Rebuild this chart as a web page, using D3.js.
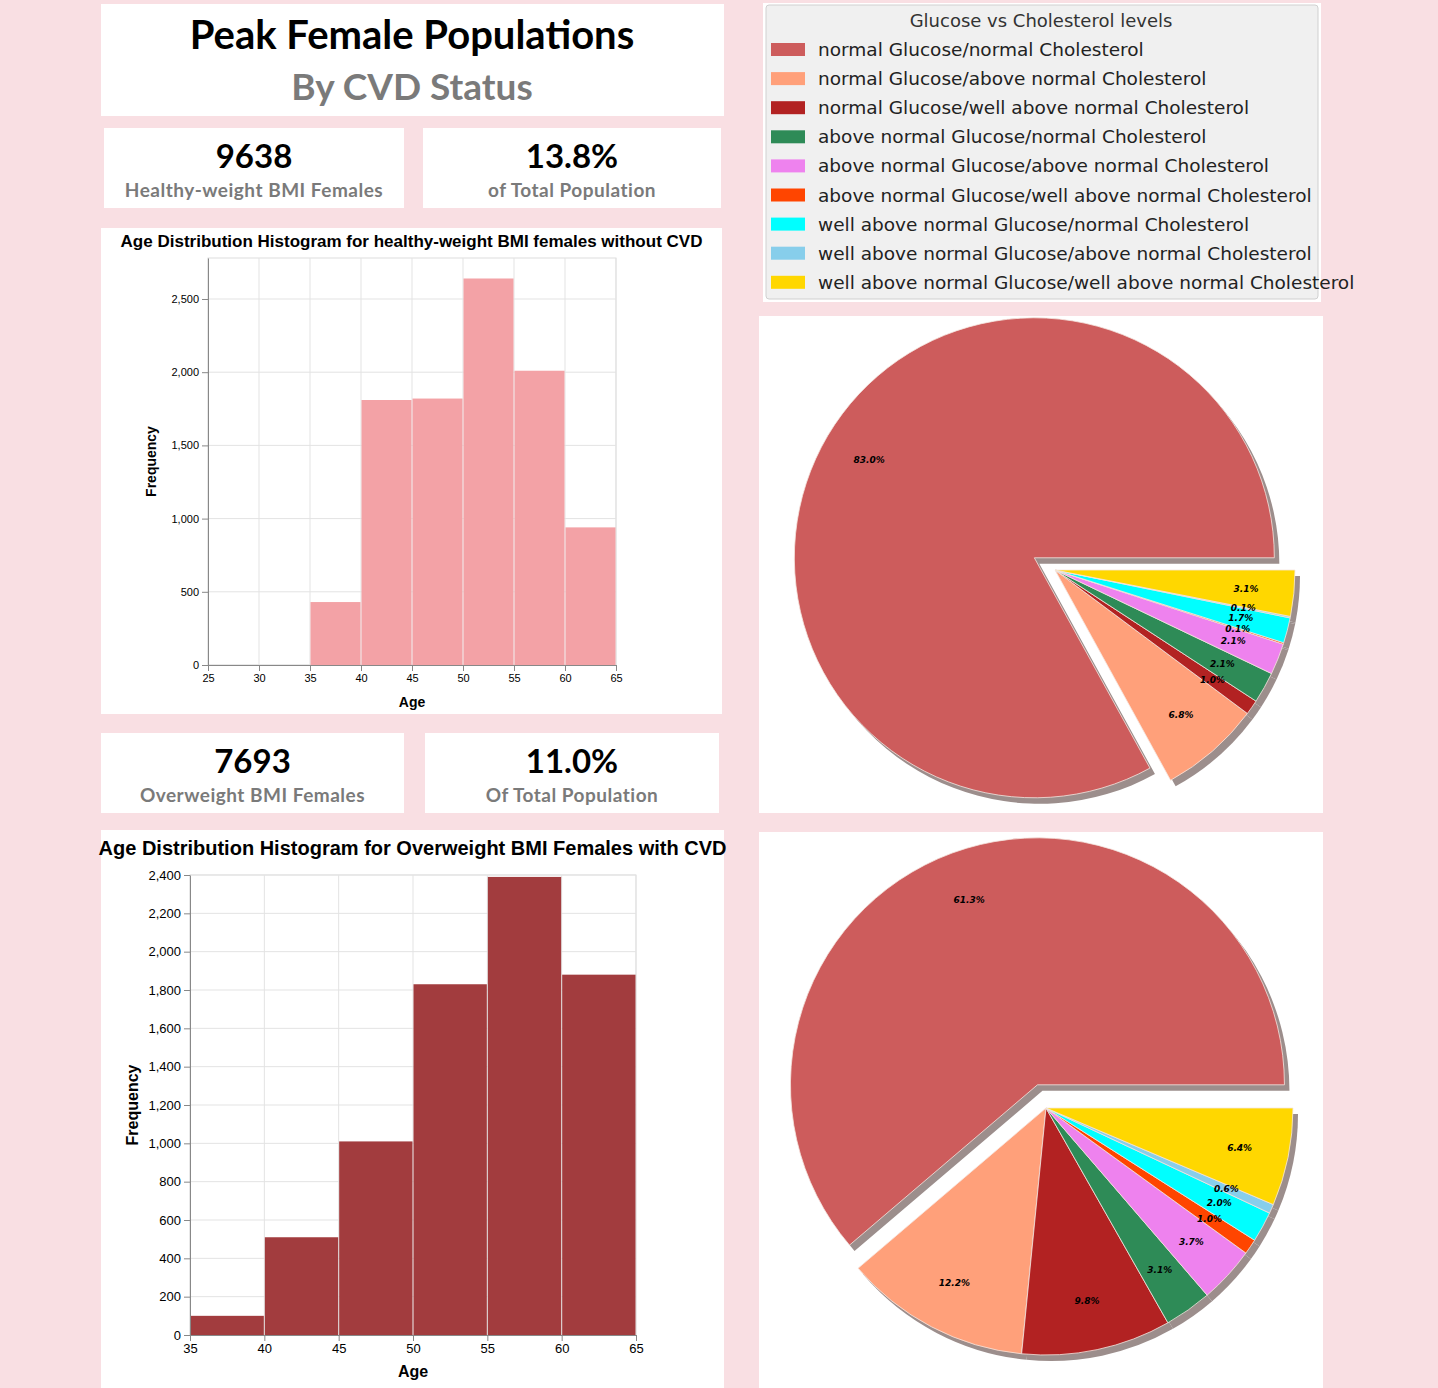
<!DOCTYPE html>
<html><head><meta charset="utf-8">
<script src="https://cdn.jsdelivr.net/npm/d3@7"></script>
<style>body{margin:0;background:#f9dfe3;}svg{display:block;}</style>
</head><body><div id="container"></div>
<script>
// data
const categories = ["normal Glucose/normal Cholesterol","normal Glucose/above normal Cholesterol","normal Glucose/well above normal Cholesterol","above normal Glucose/normal Cholesterol","above normal Glucose/above normal Cholesterol","above normal Glucose/well above normal Cholesterol","well above normal Glucose/normal Cholesterol","well above normal Glucose/above normal Cholesterol","well above normal Glucose/well above normal Cholesterol"];
const colorsList = ["#cd5c5c","#ffa07a","#b22222","#2e8b57","#ee82ee","#ff4500","#00ffff","#87ceeb","#ffd700"];
const pieHealthy = [83.0, 6.8, 1.0, 2.1, 2.1, 0.1, 1.7, 0.1, 3.1];
const pieOverweight = [61.3, 12.2, 9.8, 3.1, 3.7, 1.0, 2.0, 0.6, 6.4];
const binStartsTop = [25, 30, 35, 40, 45, 50, 55, 60];
const freqTop = [0, 0, 430, 1810, 1820, 2640, 2010, 940];
const binStartsBottom = [35, 40, 45, 50, 55, 60];
const freqBottom = [100, 510, 1010, 1830, 2390, 1880];
const cards = [
  {v:"9638", t:"Healthy-weight BMI Females", x:104, y:128, w:300, h:80},
  {v:"13.8%", t:"of Total Population", x:423, y:128, w:298, h:80},
  {v:"7693", t:"Overweight BMI Females", x:101, y:733, w:303, h:80},
  {v:"11.0%", t:"Of Total Population", x:425, y:733, w:294, h:80}
];

const W = 1438, H = 1388;
const svg = d3.select("#container").append("svg").attr("width", W).attr("height", H);
const font = "Lato, 'Open Sans', sans-serif";

// title
svg.append("rect").attr("x",101).attr("y",4).attr("width",623).attr("height",112).attr("fill","#fff");
svg.append("text").attr("x",412).attr("y",49).attr("text-anchor","middle").attr("font-family",font)
  .attr("font-weight","bold").attr("font-size",40).text("Peak Female Populations");
svg.append("text").attr("x",412).attr("y",100).attr("text-anchor","middle").attr("font-family",font)
  .attr("font-weight","bold").attr("font-size",37).attr("fill","#7a7a7a").text("By CVD Status");

cards.forEach(c => {
  svg.append("rect").attr("x",c.x).attr("y",c.y).attr("width",c.w).attr("height",c.h).attr("fill","#fff");
  svg.append("text").attr("x",c.x+c.w/2).attr("y",c.y+40).attr("text-anchor","middle").attr("font-family",font)
    .attr("font-weight","bold").attr("font-size",33).text(c.v);
  svg.append("text").attr("x",c.x+c.w/2).attr("y",c.y+69).attr("text-anchor","middle").attr("font-family",font)
    .attr("font-weight","bold").attr("font-size",19).attr("fill","#7a7a7a").attr("letter-spacing",0.5).text(c.t);
});

// histograms
function histogram(o) {
  svg.append("rect").attr("x",o.px).attr("y",o.py).attr("width",o.pw).attr("height",o.ph).attr("fill","#fff");
  svg.append("text").attr("x",o.px+o.pw/2).attr("y",o.titleY).attr("text-anchor","middle")
    .attr("font-family","'Liberation Sans', Arial, sans-serif").attr("font-weight","bold").attr("font-size",o.titleSize).text(o.title);
  const x = d3.scaleLinear().domain(o.xd).range([o.x0, o.x1]);
  const y = d3.scaleLinear().domain(o.yd).range([o.y1, o.y0]);
  const g = svg.append("g");
  g.append("rect").attr("x",o.x0).attr("y",o.y0).attr("width",o.x1-o.x0).attr("height",o.y1-o.y0)
    .attr("fill","none").attr("stroke","#ddd");
  g.selectAll(".gy").data(y.ticks(o.yt)).join("line").attr("x1",o.x0).attr("x2",o.x1)
    .attr("y1",d=>y(d)).attr("y2",d=>y(d)).attr("stroke","#e3e3e3");
  g.selectAll(".gx").data(x.ticks(8)).join("line").attr("y1",o.y0).attr("y2",o.y1)
    .attr("x1",d=>x(d)).attr("x2",d=>x(d)).attr("stroke","#e3e3e3");
  g.selectAll(".bar").data(o.starts.map((s,i)=>({s, v:o.vals[i]}))).join("rect")
    .attr("x",d=>x(d.s)+0.5).attr("width",d=>x(d.s+5)-x(d.s)-1)
    .attr("y",d=>y(d.v)).attr("height",d=>y(0)-y(d.v)).attr("fill",o.color);
  const ax = g.append("g").attr("transform",`translate(0,${o.y1})`).call(d3.axisBottom(x).ticks(8).tickSizeOuter(0));
  const ay = g.append("g").attr("transform",`translate(${o.x0},0)`).call(d3.axisLeft(y).ticks(o.yt).tickSizeOuter(0));
  [ax, ay].forEach(a => { a.selectAll("text").attr("font-size",o.tickSize).attr("font-family","'Liberation Sans', Arial, sans-serif");
    a.selectAll("path,line").attr("stroke","#888"); });
  svg.append("text").attr("x",(o.x0+o.x1)/2).attr("y",o.y1+42).attr("text-anchor","middle")
    .attr("font-family","'Liberation Sans', Arial, sans-serif").attr("font-weight","bold").attr("font-size",o.labelSize).text("Age");
  svg.append("text").attr("transform",`translate(${o.x0-52},${(o.y0+o.y1)/2}) rotate(-90)`).attr("text-anchor","middle")
    .attr("font-family","'Liberation Sans', Arial, sans-serif").attr("font-weight","bold").attr("font-size",o.labelSize).text("Frequency");
}
histogram({px:101,py:228,pw:621,ph:486,title:"Age Distribution Histogram for healthy-weight BMI females without CVD",
  titleY:247,titleSize:17,x0:208,x1:616,y0:258,y1:665,xd:[25,65],yd:[0,2780],yt:6,
  starts:binStartsTop,vals:freqTop,color:"#f3a2a6",tickSize:11,labelSize:14});
histogram({px:101,py:830,pw:623,ph:558,title:"Age Distribution Histogram for Overweight BMI Females with CVD",
  titleY:855,titleSize:20,x0:190,x1:636,y0:875,y1:1335,xd:[35,65],yd:[0,2400],yt:12,
  starts:binStartsBottom,vals:freqBottom,color:"#a23c3e",tickSize:13,labelSize:16});

// legend
svg.append("rect").attr("x",763).attr("y",3).attr("width",558).attr("height",299).attr("fill","#fff");
svg.append("rect").attr("x",766).attr("y",5).attr("width",552).attr("height",294).attr("fill","#f0f0f0")
  .attr("stroke","#d0d0d0").attr("rx",3);
svg.append("text").attr("x",1041).attr("y",27).attr("text-anchor","middle").attr("font-family","'DejaVu Sans', sans-serif")
  .attr("font-size",18).attr("fill","#333").text("Glucose vs Cholesterol levels");
const leg = svg.append("g");
leg.selectAll("rect").data(categories).join("rect").attr("x",771).attr("y",(d,i)=>43+i*29.1)
  .attr("width",34).attr("height",13).attr("fill",(d,i)=>colorsList[i]);
leg.selectAll("text").data(categories).join("text").attr("x",818).attr("y",(d,i)=>56+i*29.1)
  .attr("font-family","'DejaVu Sans', sans-serif").attr("font-size",18.5).attr("fill","#222").attr("textLength",null).text(d=>d);

// pies
function pieChart(vals, o) {
  svg.append("rect").attr("x",759).attr("y",o.py).attr("width",564).attr("height",o.ph).attr("fill","#fff");
  const pie = d3.pie().sort(null).startAngle(Math.PI/2).endAngle(Math.PI/2 - 2*Math.PI);
  const arcs = pie(vals);
  const arc = d3.arc().innerRadius(0).outerRadius(o.r);
  const lab = d3.arc().innerRadius(o.r*0.8).outerRadius(o.r*0.8);
  const off = d => {
    if (d.index !== 0) return [0,0];
    const m = (d.startAngle + d.endAngle)/2;
    return [Math.sin(m)*o.r*o.ex, -Math.cos(m)*o.r*o.ex];
  };
  const g = svg.append("g").attr("transform",`translate(${o.cx},${o.cy})`);
  g.selectAll(".sh").data(arcs).join("path").attr("d",arc).attr("fill","#9c8e8c")
    .attr("transform",d=>{const p=off(d);return `translate(${p[0]+5},${p[1]+6})`;});
  g.selectAll(".sl").data(arcs).join("path").attr("d",arc).attr("fill",(d,i)=>colorsList[i])
    .attr("stroke","#f5e6e0").attr("stroke-width",0.8)
    .attr("transform",d=>{const p=off(d);return `translate(${p[0]},${p[1]})`;});
  g.selectAll("text").data(arcs).join("text")
    .attr("transform",d=>{const c=lab.centroid(d),p=off(d);return `translate(${c[0]+p[0]},${c[1]+p[1]})`;})
    .attr("text-anchor","middle").attr("dy","0.35em").attr("font-family","'DejaVu Sans', sans-serif")
    .attr("font-size",9).attr("font-weight","bold").attr("font-style","italic").text(d=>d.data.toFixed(1)+"%");
}
pieChart(pieHealthy, {py:316, ph:497, cx:1055, cy:570, r:240, ex:0.1});
pieChart(pieOverweight, {py:832, ph:556, cx:1046, cy:1108, r:247, ex:0.1});
</script></body></html>
